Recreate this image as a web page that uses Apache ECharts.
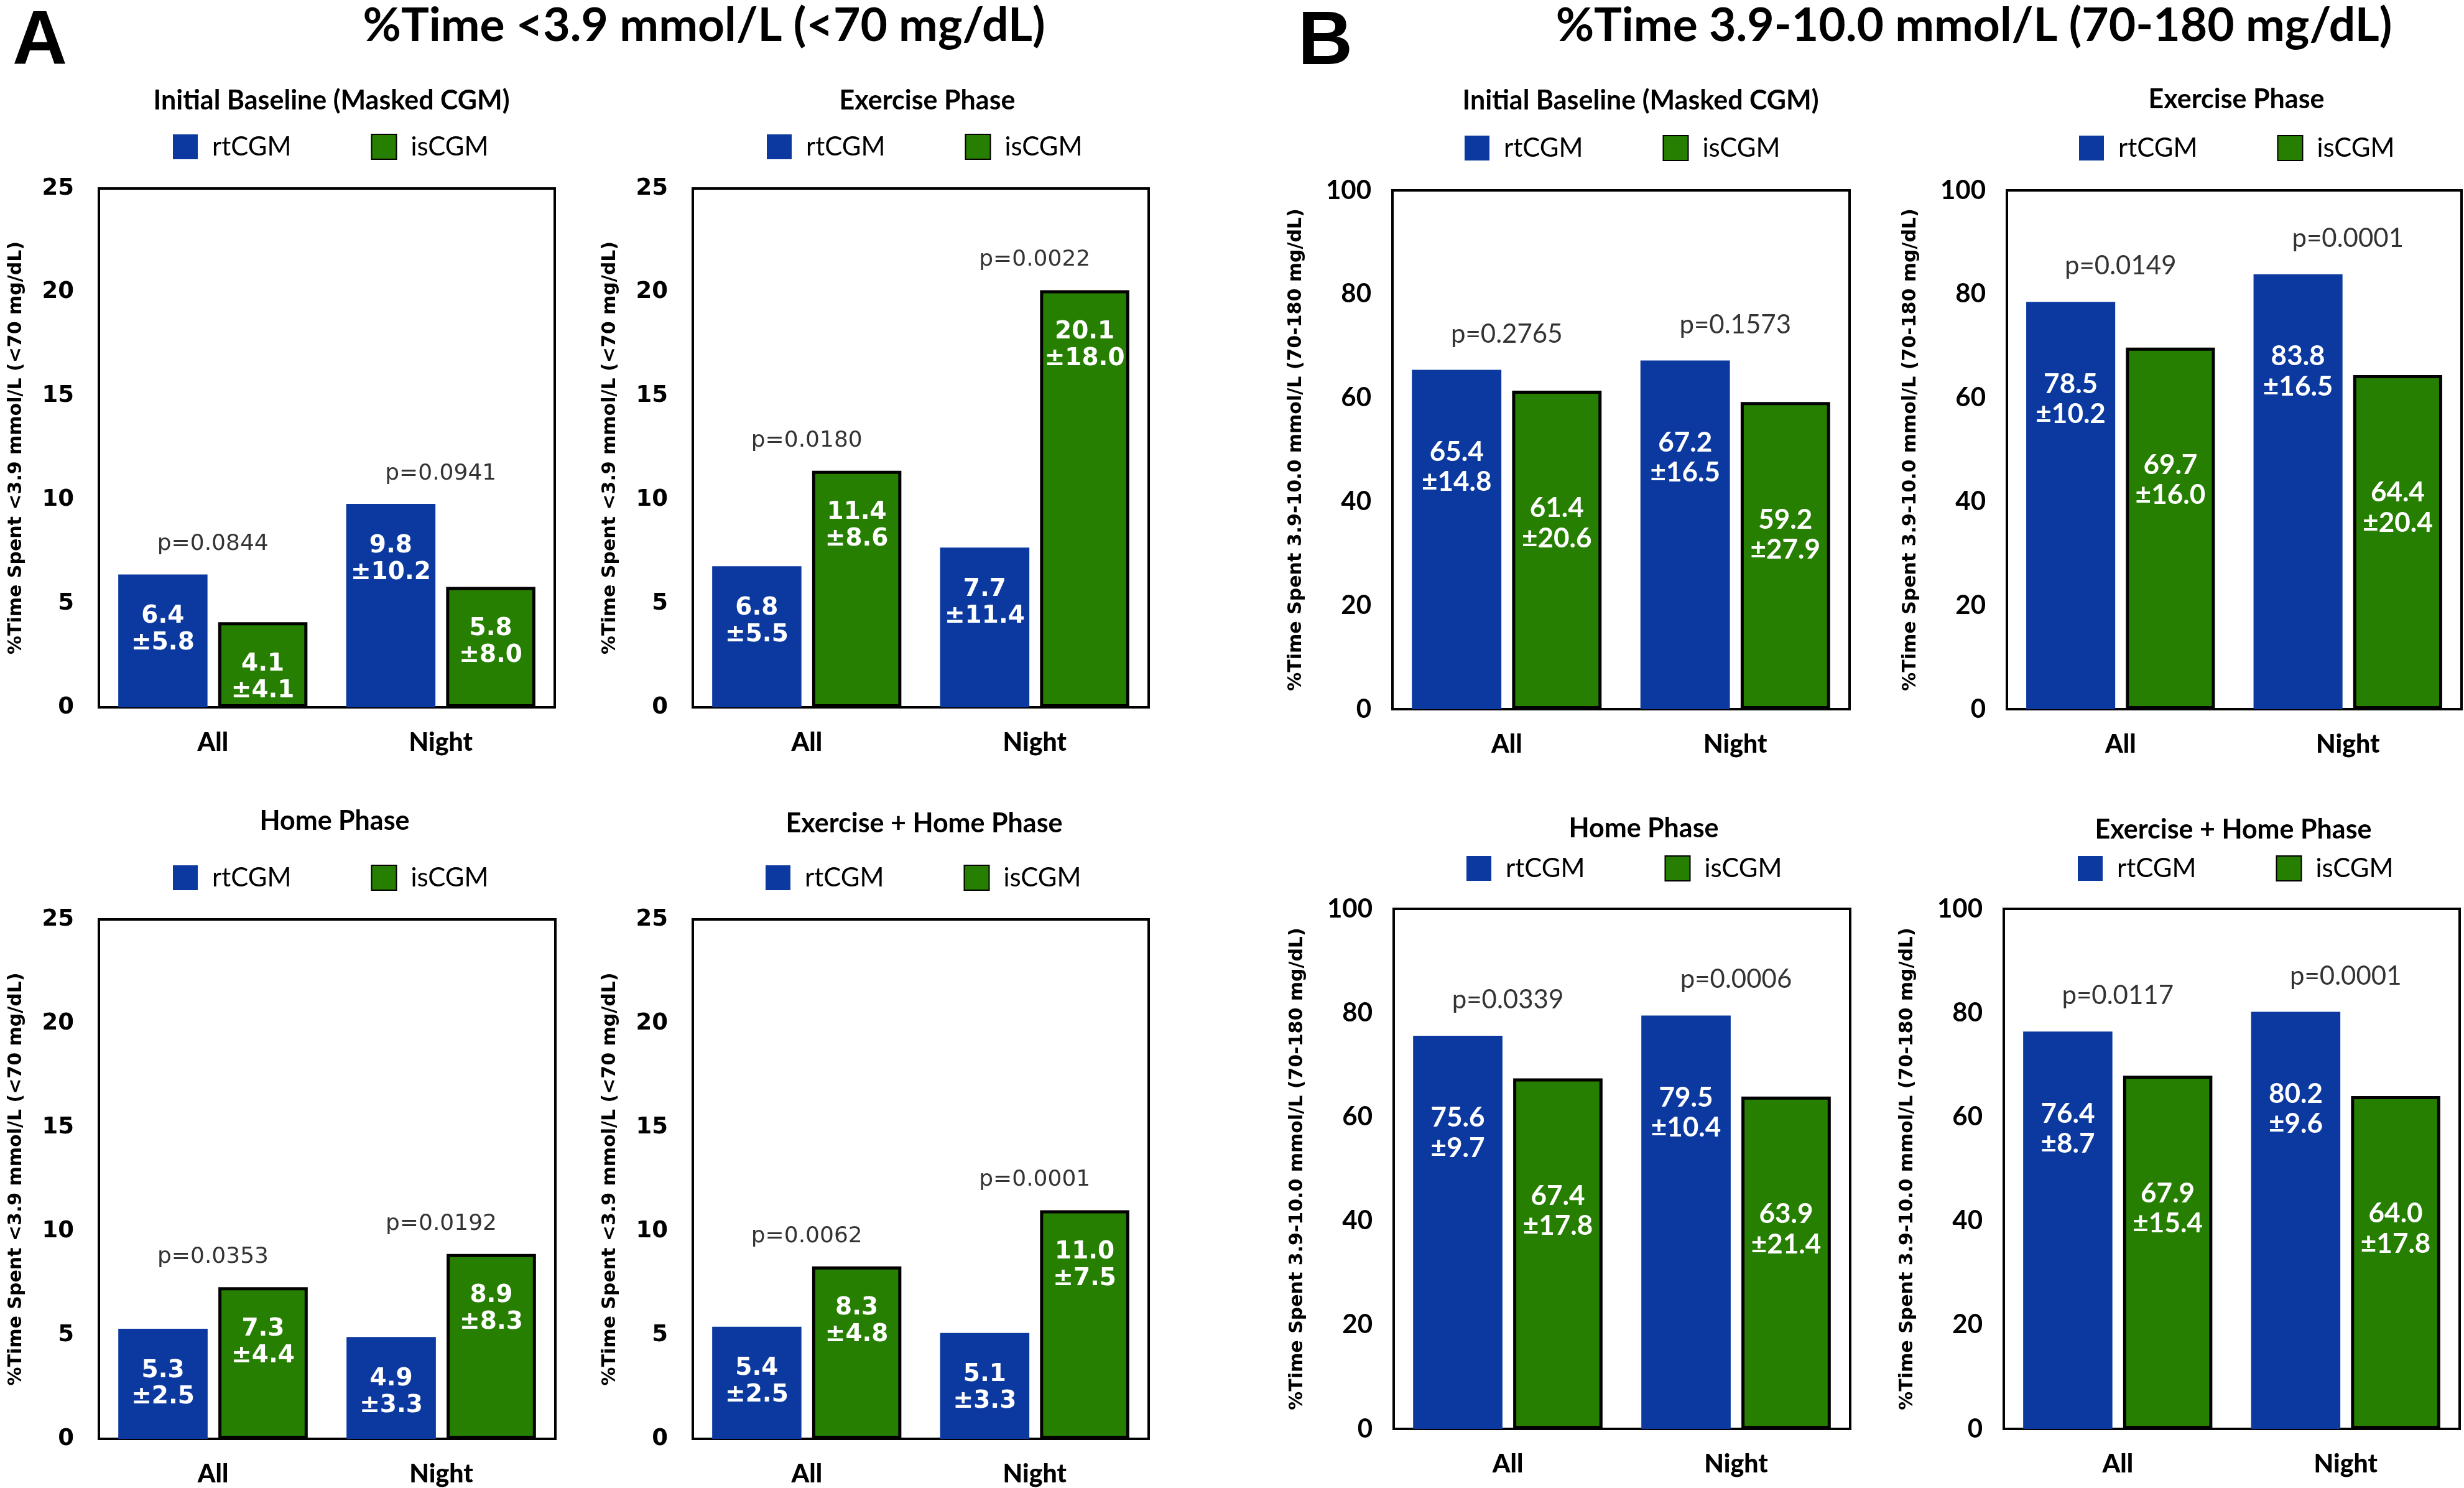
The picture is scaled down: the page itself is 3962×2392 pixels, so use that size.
<!DOCTYPE html>
<html><head><meta charset="utf-8">
<script src="https://cdn.jsdelivr.net/npm/echarts@6/dist/echarts.min.js"></script>
<style>html,body{margin:0;padding:0;background:#fff}#c{width:3962px;height:2392px}</style>
</head><body><div id="c"></div>
<script>
// ---------- DATA ----------
const categories = ['All', 'Night'];
const seriesNames = ['rtCGM', 'isCGM'];
const panelTitles = ['Initial Baseline (Masked CGM)', 'Exercise Phase', 'Home Phase', 'Exercise + Home Phase'];

const figATitle = '%Time <3.9 mmol/L (<70 mg/dL)';
const figAAxisName = '%Time Spent <3.9 mmol/L (<70 mg/dL)';
const figATicks = [0, 5, 10, 15, 20, 25];
const hypoRtMean = [[6.4, 9.8], [6.8, 7.7], [5.3, 4.9], [5.4, 5.1]];
const hypoRtSd   = [[5.8, 10.2], [5.5, 11.4], [2.5, 3.3], [2.5, 3.3]];
const hypoIsMean = [[4.1, 5.8], [11.4, 20.1], [7.3, 8.9], [8.3, 11.0]];
const hypoIsSd   = [[4.1, 8.0], [8.6, 18.0], [4.4, 8.3], [4.8, 7.5]];
const hypoP      = [['0.0844', '0.0941'], ['0.0180', '0.0022'], ['0.0353', '0.0192'], ['0.0062', '0.0001']];

const figBTitle = '%Time 3.9-10.0 mmol/L (70-180 mg/dL)';
const figBAxisName = '%Time Spent 3.9-10.0 mmol/L (70-180 mg/dL)';
const figBTicks = [0, 20, 40, 60, 80, 100];
const tirRtMean = [[65.4, 67.2], [78.5, 83.8], [75.6, 79.5], [76.4, 80.2]];
const tirRtSd   = [[14.8, 16.5], [10.2, 16.5], [9.7, 10.4], [8.7, 9.6]];
const tirIsMean = [[61.4, 59.2], [69.7, 64.4], [67.4, 63.9], [67.9, 64.0]];
const tirIsSd   = [[20.6, 27.9], [16.0, 20.4], [17.8, 21.4], [15.4, 17.8]];
const tirP      = [['0.2765', '0.1573'], ['0.0149', '0.0001'], ['0.0339', '0.0006'], ['0.0117', '0.0001']];

// ---------- STYLE / LAYOUT ----------
const FONT_C = 'Lato, "Open Sans", "Liberation Sans", sans-serif';
const FONT_V = '"DejaVu Sans", Verdana, sans-serif';
const BLUE = '#0c39a0';
const GREEN = '#267f00';

const figures = [
  { letter: 'A', letterX: 20, titleX: 1132, title: figATitle, axisName: figAAxisName, ticks: figATicks,
    rtMean: hypoRtMean, rtSd: hypoRtSd, isMean: hypoIsMean, isSd: hypoIsSd, p: hypoP,
    tickFont: FONT_V, tickSize: 37, labelFont: FONT_V, labelSize: 39, pFont: FONT_V, pSize: 36,
    rtDist: 46, isDist: 46, pDist: 30, nameGap: 118, tickMargin: 40,
    layout: [
      { left: 159, top: 303, width: 733, height: 834, tx: 533, ty: 162, lx: 273, ly: 210 },
      { left: 1114, top: 303, width: 733, height: 834, tx: 1491, ty: 162, lx: 1228, ly: 210 },
      { left: 159, top: 1478, width: 734, height: 835, tx: 538, ty: 1320, lx: 273, ly: 1385 },
      { left: 1114, top: 1478, width: 733, height: 835, tx: 1486, ty: 1324, lx: 1226, ly: 1385 }
    ] },
  { letter: 'B', letterX: 2087, titleX: 3174, title: figBTitle, axisName: figBAxisName, ticks: figBTicks,
    rtMean: tirRtMean, rtSd: tirRtSd, isMean: tirIsMean, isSd: tirIsSd, p: tirP,
    tickFont: FONT_C, tickSize: 42, labelFont: FONT_C, labelSize: 44, pFont: FONT_C, pSize: 42,
    rtDist: 108, isDist: 165, pDist: 36, nameGap: 140, tickMargin: 34,
    layout: [
      { left: 2239, top: 306, width: 735, height: 834, tx: 2638, ty: 162, lx: 2350, ly: 212 },
      { left: 3227, top: 306, width: 731, height: 834, tx: 3596, ty: 160, lx: 3338, ly: 212 },
      { left: 2241, top: 1461, width: 734, height: 836, tx: 2643, ty: 1332, lx: 2353, ly: 1370 },
      { left: 3222, top: 1461, width: 733, height: 836, tx: 3591, ty: 1334, lx: 3336, ly: 1370 }
    ] }
];

const grid = [], xAxis = [], yAxis = [], series = [], legend = [], graphic = [];
let gi = 0;
figures.forEach(fig => {
  graphic.push({ type: 'text', left: fig.letterX, top: 8,
    style: { text: fig.letter, font: '900 122px "Liberation Sans", Arial, sans-serif', fill: '#000' } });
  graphic.push({ type: 'text', x: fig.titleX, y: 42,
    style: { text: fig.title, font: 'bold 75px ' + FONT_C, fill: '#000', textAlign: 'center', textVerticalAlign: 'middle' } });
  const step = fig.ticks[1] - fig.ticks[0];
  fig.layout.forEach((L, k) => {
    grid.push({ left: L.left, top: L.top, width: L.width, height: L.height, show: true,
      borderColor: '#000', borderWidth: 4, backgroundColor: '#fff' });
    xAxis.push({ type: 'category', gridIndex: gi, data: categories,
      axisLine: { show: false }, axisTick: { show: false },
      axisLabel: { color: '#000', fontFamily: FONT_C, fontWeight: 900, fontSize: 41, margin: 36 } });
    yAxis.push({ type: 'value', gridIndex: gi, min: fig.ticks[0], max: fig.ticks[fig.ticks.length - 1], interval: step,
      splitLine: { show: false }, axisLine: { show: false }, axisTick: { show: false },
      axisLabel: { color: '#000', fontFamily: fig.tickFont, fontWeight: 'bold', fontSize: fig.tickSize, margin: fig.tickMargin },
      name: fig.axisName, nameLocation: 'middle', nameGap: fig.nameGap,
      nameTextStyle: { color: '#000', fontFamily: FONT_V, fontWeight: 'bold', fontSize: 30 } });
    graphic.push({ type: 'text', x: L.tx, y: L.ty,
      style: { text: panelTitles[k], font: 'bold 43px ' + FONT_C, fill: '#000', textAlign: 'center', textVerticalAlign: 'middle' } });
    legend.push({ left: L.lx, top: L.ly, data: seriesNames, itemWidth: 40, itemHeight: 40, itemGap: 128,
      icon: 'rect', selectedMode: false,
      textStyle: { fontFamily: FONT_C, fontSize: 42, color: '#000', padding: [0, 0, 0, 18] } });
    const mk = (name, means, sds, color, border, dist) => ({
      name, type: 'bar', xAxisIndex: gi, yAxisIndex: gi, data: means[k],
      barGap: '12%', barCategoryGap: '17%',
      itemStyle: { color, borderColor: border ? '#000' : color, borderWidth: border ? 5 : 0 },
      label: { show: true, position: 'insideTop', distance: dist, color: '#fff',
        fontFamily: fig.labelFont, fontWeight: 'bold', fontSize: fig.labelSize, lineHeight: fig.labelSize * 1.1,
        formatter: p => means[k][p.dataIndex].toFixed(1) + '\n±' + sds[k][p.dataIndex].toFixed(1) }
    });
    series.push(mk(seriesNames[0], fig.rtMean, fig.rtSd, BLUE, false, fig.rtDist));
    series.push(mk(seriesNames[1], fig.isMean, fig.isSd, GREEN, true, fig.isDist));
    const tops = categories.map((c, i) => Math.max(fig.rtMean[k][i], fig.isMean[k][i]));
    series.push({ name: 'p-value', type: 'scatter', xAxisIndex: gi, yAxisIndex: gi, data: tops,
      symbolSize: 1, itemStyle: { color: 'rgba(0,0,0,0)' }, silent: true, z: 5,
      label: { show: true, position: 'top', distance: fig.pDist, color: '#000',
        fontFamily: fig.pFont, fontSize: fig.pSize,
        formatter: p => 'p=' + fig.p[k][p.dataIndex] } });
    gi++;
  });
});

const chart = echarts.init(document.getElementById('c'), null, { renderer: 'canvas' });
chart.setOption({ animation: false, backgroundColor: '#fff', grid, xAxis, yAxis, series, legend, graphic });
</script></body></html>
